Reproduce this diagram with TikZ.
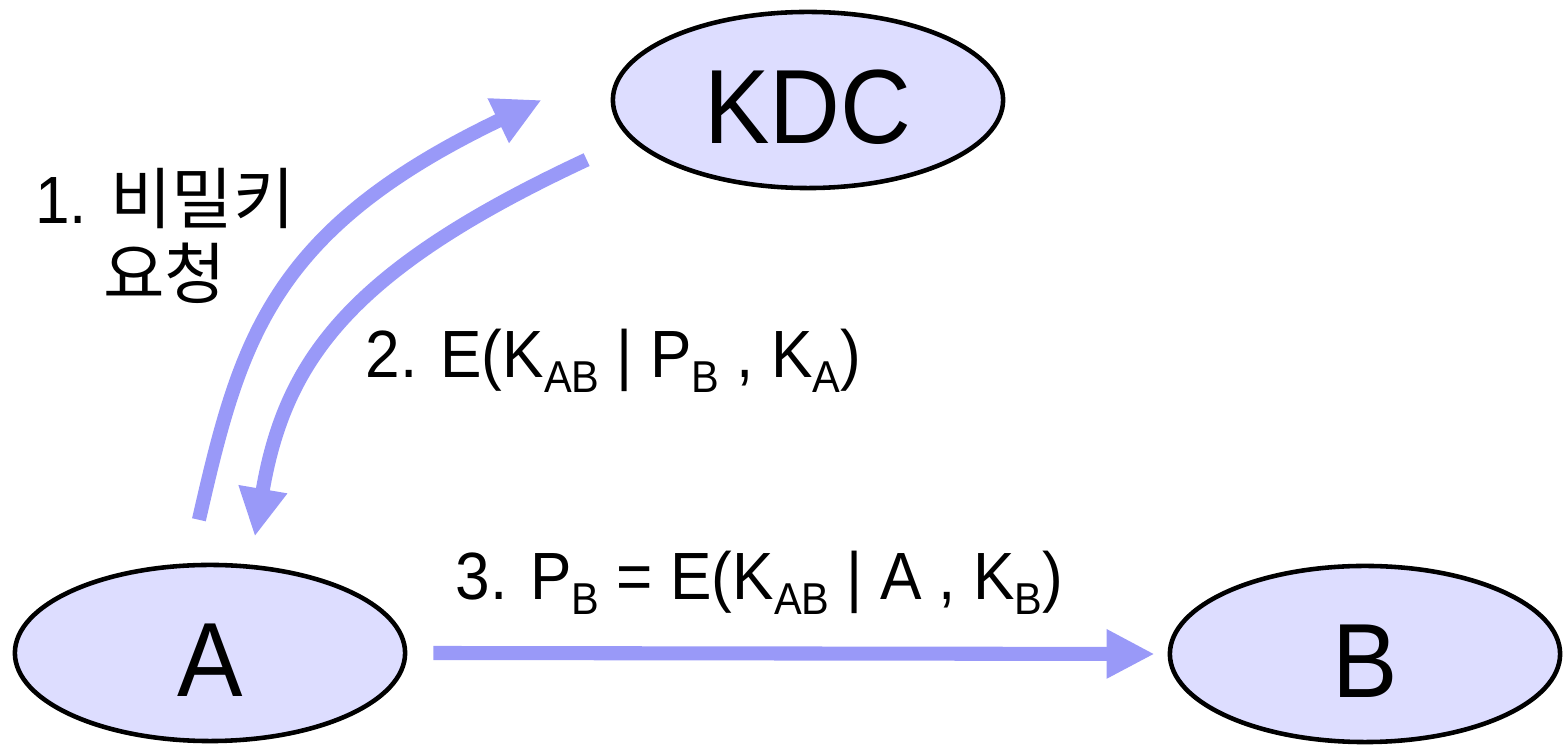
\documentclass[tikz,border=0pt]{standalone}
\usepackage{fontspec}
\setmainfont[FakeStretch=0.93]{Liberation Sans}
\newfontfamily\cjk{Noto Sans CJK KR}
\usetikzlibrary{arrows.meta,shapes.geometric}
\definecolor{nodefill}{HTML}{DDDDFF}
\definecolor{flowblue}{HTML}{9999F8}
\tikzset{
  party/.style={draw=black, ellipse, line width=1.3pt, fill=nodefill, minimum width=3.9cm, minimum height=1.76cm, inner sep=0pt, text height=25pt, font=\fontsize{30}{30}\selectfont},
  flow/.style={draw=flowblue, line width=4pt, -{Triangle[length=4.8mm, width=4.6mm]}},
  msg/.style={font=\fontsize{19}{21.3}\selectfont, inner sep=0pt}
}
\newcommand{\ksub}[1]{\raisebox{-0.4ex}{\fontsize{12.7}{12.7}\selectfont #1}}

\begin{document}
\begin{tikzpicture}[x=0.01cm, y=-0.01cm]
  \useasboundingbox (0,0) rectangle (1565,746);
  \node[party] (KDC) at (808,100) {KDC};
  \node[party] (A) at (210,653) {A};
  \node[party] (B) at (1365,654) {B};
  % messages
  \draw[flow] ([yshift=0.43cm]A.97) .. controls (240,340) and (270,230) .. ([xshift=-0.69cm]KDC.west);
  \draw[flow] ([xshift=-0.51cm, yshift=-0.14cm]KDC.195) .. controls (350,270) and (285,360) .. ([yshift=0.285cm]A.63);
  \draw[flow] ([xshift=0.26cm]A.east) -- ([xshift=-0.13cm]B.west);
  \node[msg, align=center] (req) at (165,236) {1. {\cjk 비밀키}\\{\cjk 요청}};
  \node[msg, anchor=base west] (reply) at (365,378) {2. E(K\ksub{AB} | P\ksub{B} , K\ksub{A})};
  \node[msg, anchor=base west] (ticket) at (455,600) {3. P\ksub{B} = E(K\ksub{AB} | A , K\ksub{B})};
\end{tikzpicture}
\end{document}
